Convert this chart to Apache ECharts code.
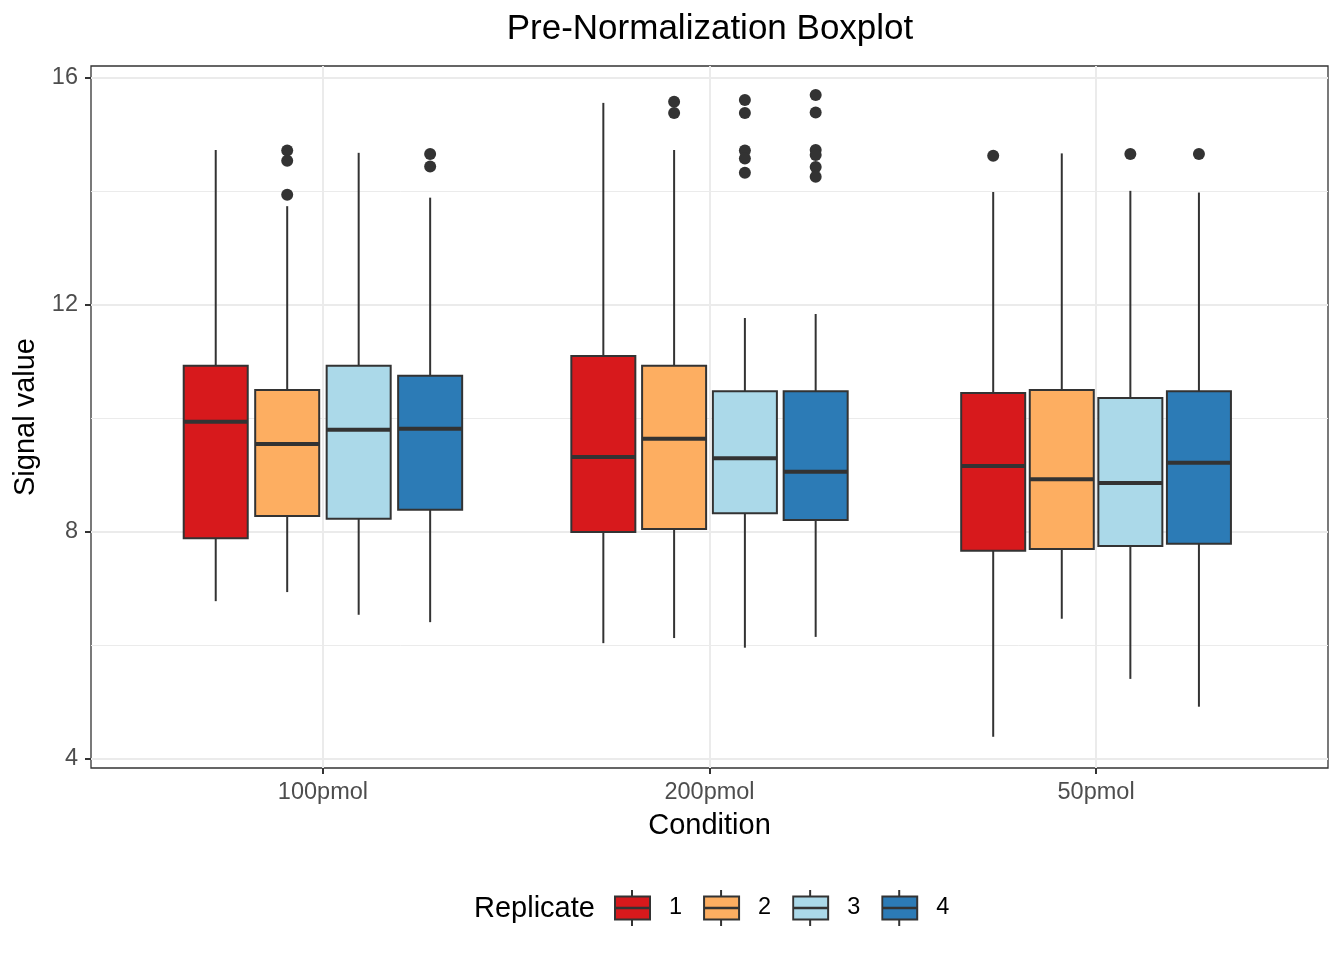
<!DOCTYPE html>
<html><head><meta charset="utf-8">
<script src="https://cdn.jsdelivr.net/npm/echarts@6/dist/echarts.min.js"></script>
<style>html,body{margin:0;padding:0;background:#fff}#c{width:1344px;height:960px}</style>
</head><body><div id="c"></div>
<script>
// ---- data ----
const categories = ['100pmol', '200pmol', '50pmol'];
const replicates = ['1', '2', '3', '4'];
const colors = ['#D7191C', '#FDAE61', '#ABD9E9', '#2C7BB6'];
const yTicks = [4, 8, 12, 16];
const yMinorTicks = [6, 10, 14];
// [lower whisker, Q1, median, Q3, upper whisker] per condition
const rep1Stats = [[6.78, 7.89, 9.94, 10.93, 14.73], [6.04, 8.00, 9.32, 11.10, 15.56], [4.39, 7.67, 9.16, 10.45, 13.99]];
const rep2Stats = [[6.94, 8.28, 9.55, 10.50, 13.74], [6.13, 8.05, 9.64, 10.93, 14.73], [6.47, 7.70, 8.93, 10.50, 14.67]];
const rep3Stats = [[6.54, 8.23, 9.80, 10.93, 14.68], [5.96, 8.33, 9.30, 10.48, 11.77], [5.41, 7.75, 8.86, 10.36, 14.01]];
const rep4Stats = [[6.41, 8.39, 9.82, 10.75, 13.89], [6.15, 8.21, 9.06, 10.48, 11.84], [4.92, 7.79, 9.22, 10.48, 13.98]];
// outliers per condition
const rep1Outliers = [[], [], [14.63]];
const rep2Outliers = [[14.72, 14.54, 13.94], [15.58, 15.38], []];
const rep3Outliers = [[], [15.61, 15.38, 14.72, 14.58, 14.33], [14.66]];
const rep4Outliers = [[14.66, 14.44], [15.70, 15.39, 14.73, 14.64, 14.43, 14.26], [14.66]];

// ---- layout helpers ----
const statsByRep = [rep1Stats, rep2Stats, rep3Stats, rep4Stats];
const outByRep = [rep1Outliers, rep2Outliers, rep3Outliers, rep4Outliers];
const groupDodge = [0.1849, 0.1831, 0.1774];
const HALF = 0.0828;
const xPos = (g, r) => g + 1 + (r - 1.5) * groupDodge[g];
const FONT = '"Liberation Sans", Arial, Helvetica, sans-serif';
const INK = '#333333';

function svgIcon(c) {
  const s = '<svg xmlns="http://www.w3.org/2000/svg" width="50" height="36" viewBox="0 0 50 36">' +
    '<line x1="18" y1="0" x2="18" y2="36" stroke="#333333" stroke-width="2"/>' +
    '<rect x="1" y="6.5" width="35" height="23" fill="' + c + '" stroke="#333333" stroke-width="2"/>' +
    '<line x1="1" y1="18" x2="36" y2="18" stroke="#333333" stroke-width="2.5"/></svg>';
  return 'image://data:image/svg+xml;charset=utf-8,' + encodeURIComponent(s);
}

const series = [];
// grid lines
const gl = [];
yTicks.forEach(v => gl.push({ yAxis: v, lineStyle: { color: '#EBEBEB', width: 2, type: 'solid' } }));
yMinorTicks.forEach(v => gl.push({ yAxis: v, lineStyle: { color: '#EBEBEB', width: 1, type: 'solid' } }));
categories.forEach((c, g) => gl.push({ xAxis: g + 1, lineStyle: { color: '#EBEBEB', width: 2, type: 'solid' } }));
series.push({
  type: 'scatter', name: 'grid', data: [], silent: true, z: 1, animation: false,
  markLine: { silent: true, z: 1, symbol: 'none', label: { show: false }, animation: false, data: gl }
});

replicates.forEach((rep, r) => {
  const color = colors[r];
  series.push({
    type: 'custom', name: rep, z: 2, animation: false,
    itemStyle: { color: color },
    encode: { x: 0, y: [1, 2, 3, 4, 5] },
    data: categories.map((c, g) => [xPos(g, r)].concat(statsByRep[r][g])),
    renderItem: function (params, api) {
      const x = api.value(0);
      const lo = api.coord([x, api.value(1)]);
      const q1 = api.coord([x, api.value(2)]);
      const md = api.coord([x, api.value(3)]);
      const q3 = api.coord([x, api.value(4)]);
      const hi = api.coord([x, api.value(5)]);
      const xl = api.coord([x - HALF, 0])[0];
      const xr = api.coord([x + HALF, 0])[0];
      const cx = lo[0];
      const ls = { stroke: INK, lineWidth: 2 };
      return {
        type: 'group', children: [
          { type: 'line', shape: { x1: cx, y1: hi[1], x2: cx, y2: q3[1] }, style: ls },
          { type: 'line', shape: { x1: cx, y1: q1[1], x2: cx, y2: lo[1] }, style: ls },
          { type: 'rect', shape: { x: xl, y: q3[1], width: xr - xl, height: q1[1] - q3[1] }, style: { fill: color, stroke: INK, lineWidth: 2 } },
          { type: 'line', shape: { x1: xl, y1: md[1], x2: xr, y2: md[1] }, style: { stroke: INK, lineWidth: 4 } }
        ]
      };
    }
  });
});

replicates.forEach((rep, r) => {
  const pts = [];
  categories.forEach((c, g) => outByRep[r][g].forEach(v => pts.push([xPos(g, r), v])));
  series.push({
    type: 'scatter', name: 'outlier' + rep, z: 3, animation: false,
    symbol: 'circle', symbolSize: 12, itemStyle: { color: INK, opacity: 1 },
    data: pts
  });
});

const chart = echarts.init(document.getElementById('c'), null, { renderer: 'canvas' });
chart.setOption({
  backgroundColor: '#ffffff',
  animation: false,
  textStyle: { fontFamily: FONT },
  grid: { left: 91, right: 16, top: 66, bottom: 192, show: true, borderColor: INK, borderWidth: 1.3, backgroundColor: 'transparent' },
  xAxis: {
    type: 'value', min: 0.4, max: 3.6,
    name: 'Condition', nameLocation: 'middle', nameGap: 43,
    nameTextStyle: { fontSize: 29, color: '#000', fontFamily: FONT },
    axisLine: { show: false },
    splitLine: { show: false },
    axisTick: { show: true, customValues: [1, 2, 3], length: 6, lineStyle: { color: INK, width: 2 } },
    axisLabel: { customValues: [1, 2, 3], formatter: v => categories[Math.round(v) - 1], fontSize: 23.5, color: '#4D4D4D', margin: 13, fontFamily: FONT }
  },
  yAxis: {
    type: 'value', min: 3.84, max: 16.21,
    name: 'Signal value', nameLocation: 'middle', nameGap: 48, nameRotate: 90,
    nameTextStyle: { fontSize: 29, color: '#000', fontFamily: FONT },
    axisLine: { show: false },
    splitLine: { show: false },
    axisTick: { show: true, customValues: yTicks, length: 6, lineStyle: { color: INK, width: 2 } },
    axisLabel: { customValues: yTicks, fontSize: 23.5, color: '#4D4D4D', margin: 13, fontFamily: FONT }
  },
  legend: {
    left: 614, top: 890, padding: 0, itemWidth: 50, itemHeight: 36, itemGap: 21, selectedMode: false,
    textStyle: { fontSize: 23.5, color: '#000', fontFamily: FONT },
    data: replicates.map((r, i) => ({ name: r, icon: svgIcon(colors[i]) }))
  },
  graphic: [
    { type: 'text', x: 710, y: 29, style: { text: 'Pre-Normalization Boxplot', fill: '#000', font: '35px ' + FONT, textAlign: 'center', textVerticalAlign: 'middle' } },
    { type: 'text', x: 474, y: 909, style: { text: 'Replicate', fill: '#000', font: '29px ' + FONT, textAlign: 'left', textVerticalAlign: 'middle' } }
  ],
  series: series
});
</script></body></html>
